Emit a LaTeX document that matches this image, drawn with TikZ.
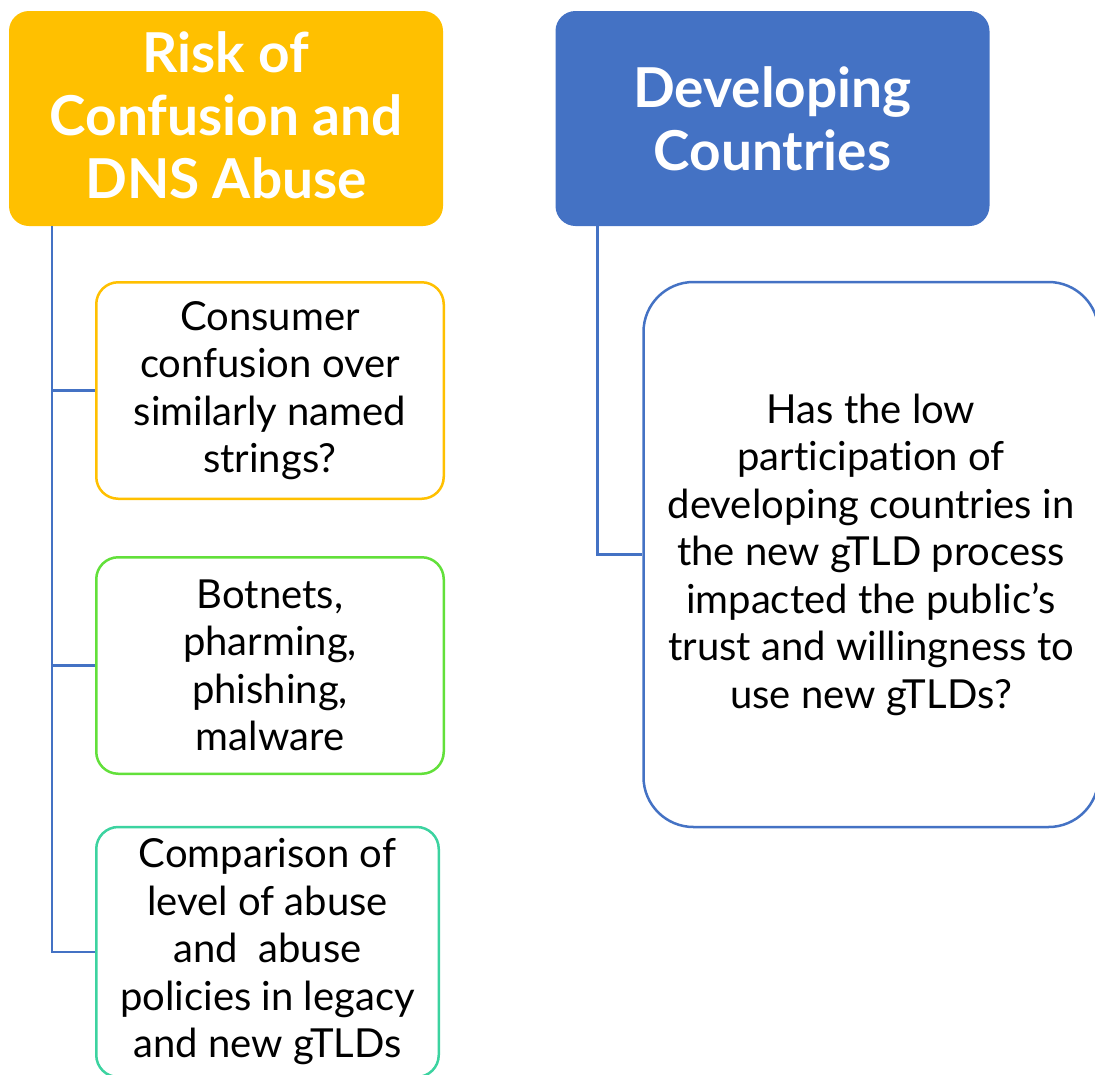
\documentclass[tikz,border=0pt]{standalone}
\usepackage{fontspec}
\setmainfont[Ligatures=NoCommon]{Lato}
\definecolor{gold}{HTML}{FFC000}
\definecolor{navy}{HTML}{4472C4}
\definecolor{lime}{HTML}{62E03A}
\definecolor{teal2}{HTML}{3CD3A0}
\tikzset{
  header/.style={rounded corners=20pt, minimum width=434pt, minimum height=215pt,
    text=white, font=\bfseries\fontsize{55}{63}\selectfont, align=center, inner sep=0pt},
  item/.style={draw, line width=2.5pt, fill=white, rounded corners=22pt, align=center,
    inner sep=0pt, font=\fontsize{40}{47.5}\selectfont},
  conn/.style={draw=navy, line width=2.4pt}
}
\begin{document}
\begin{tikzpicture}[x=1pt,y=-1pt]
\useasboundingbox (0,0) rectangle (1095,1074);
\clip (0,0) rectangle (1095,1074);
\node[header, fill=gold] (hdrL) at (226,118.5) {Risk of\\Confusion and\\DNS Abuse\rule[-6pt]{0pt}{6pt}};
\node[header, fill=navy] (hdrR) at (772.5,118.5) {Developing\\Countries};
\node[item, draw=gold, minimum width=347.5pt, minimum height=216.5pt] (b1) at (270,390.5)
  {Consumer\\confusion over\\similarly named\\strings?};
\node[item, draw=lime, minimum width=347.5pt, minimum height=216.5pt] (b2) at (270,665.5)
  {Botnets,\\pharming,\\phishing,\\malware};
\node[item, draw=teal2, minimum width=342.5pt, minimum height=250pt] (b3) at (267.5,952)
  {Comparison of\\level of abuse\\and\ \ abuse\\policies in legacy\\and new gTLDs};
\node[item, draw=navy, rounded corners=50pt, minimum width=455pt, minimum height=545pt] (bR) at (871,554.5)
  {Has the low\\participation of\\developing countries in\\the new gTLD process\\impacted the public’s\\trust and willingness to\\use new gTLDs?};
\coordinate (tL) at ([xshift=43pt]hdrL.south west);
\coordinate (tR) at ([xshift=42pt]hdrR.south west);
\draw[conn] (tL) |- (b3.west);
\draw[conn] (tL |- b1.west) -- (b1.west);
\draw[conn] (tL |- b2.west) -- (b2.west);
\draw[conn] (tR) |- (bR.west);
\end{tikzpicture}
\end{document}
